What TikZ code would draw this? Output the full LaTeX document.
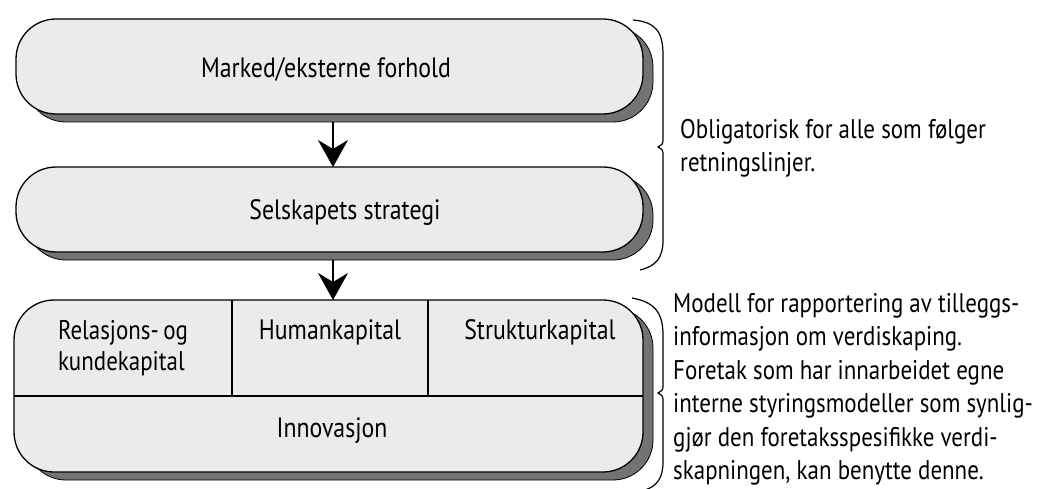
\documentclass[tikz,border=0pt]{standalone}
\usepackage{fontspec}
\setmainfont{PT Sans}[FakeStretch=0.85]
\usetikzlibrary{arrows.meta}
\begin{document}
\begin{tikzpicture}[x=1pt,y=-1pt,
  panel/.style={fill=black!8,draw=black,line width=1.3pt,rounded corners=40pt},
  shade/.style={fill=black!55,draw=black,line width=0.8pt,rounded corners=40pt},
  flow/.style={line width=1.8pt,-{Stealth[width=30pt,length=27pt,inset=9pt]}},
  brace/.style={line width=1.2pt},
  lbl/.style={font=\fontsize{28}{31}\selectfont,inner sep=0pt},
  note/.style={font=\fontsize{27}{33.5}\selectfont,inner sep=0pt,align=left,anchor=north west}]
\useasboundingbox (0,0) rectangle (1048,489);

% three panels, each with a dark offset edge below and to the right
\fill[shade] (26,27) rectangle (653,122);
\draw[panel] (16,19) rectangle (643,114);
\node[lbl] (mkt) at (326,69) {Marked/eksterne forhold};
\coordinate (p1b) at (333,122);

\fill[shade] (26,175) rectangle (653,260);
\draw[panel] (16,167) rectangle (643,252);
\node[lbl] (str) at (345,212) {Selskapets strategi};
\coordinate (p2t) at (333,167);
\coordinate (p2b) at (333,260);

\fill[shade] (26,308) rectangle (653,480);
\draw[panel] (14,300) rectangle (643,472);
\coordinate (p3t) at (333,300);

% inner division of the third panel
\draw[line width=1.3pt] (232,300) -- (232,396);
\draw[line width=1.3pt] (428,300) -- (428,396);
\draw[line width=1.3pt] (14,396) -- (643,396);
\node[lbl,align=left,font=\fontsize{27}{31}\selectfont] (rel) at (123,348) {Relasjons-\,og\\kundekapital};
\node[lbl] (hum) at (330,332) {Humankapital};
\node[lbl] (stk) at (540,332) {Strukturkapital};
\node[lbl] (inn) at (332,431) {Innovasjon};

% arrows between panels
\draw[flow] (p1b) -- (p2t);
\draw[flow] (p2b) -- (p3t);

% braces
\draw[brace] (633,20) .. controls (656,22) and (663,32) .. (663,55)
  -- (663,138) .. controls (663,144) .. (658,147) .. controls (663,150) .. (663,156)
  -- (663,240) .. controls (663,258) and (656,266) .. (640,270);
\draw[brace] (632,298) .. controls (654,302) and (663,312) .. (663,335)
  -- (663,384) .. controls (663,390) .. (658,393) .. controls (663,396) .. (663,402)
  -- (663,462) .. controls (663,478) and (657,486) .. (645,490);

\node[note] (n1) at (680,119) {Obligatorisk for alle som følger\\retningslinjer.};
\node[note] (n2) at (673,293) {Modell for rapportering av tilleggs-\\informasjon om verdiskaping.\\Foretak som har innarbeidet egne\\interne styringsmodeller som synlig-\\gjør den foretaksspesifikke verdi-\\skapningen, kan benytte denne.};
\end{tikzpicture}
\end{document}
